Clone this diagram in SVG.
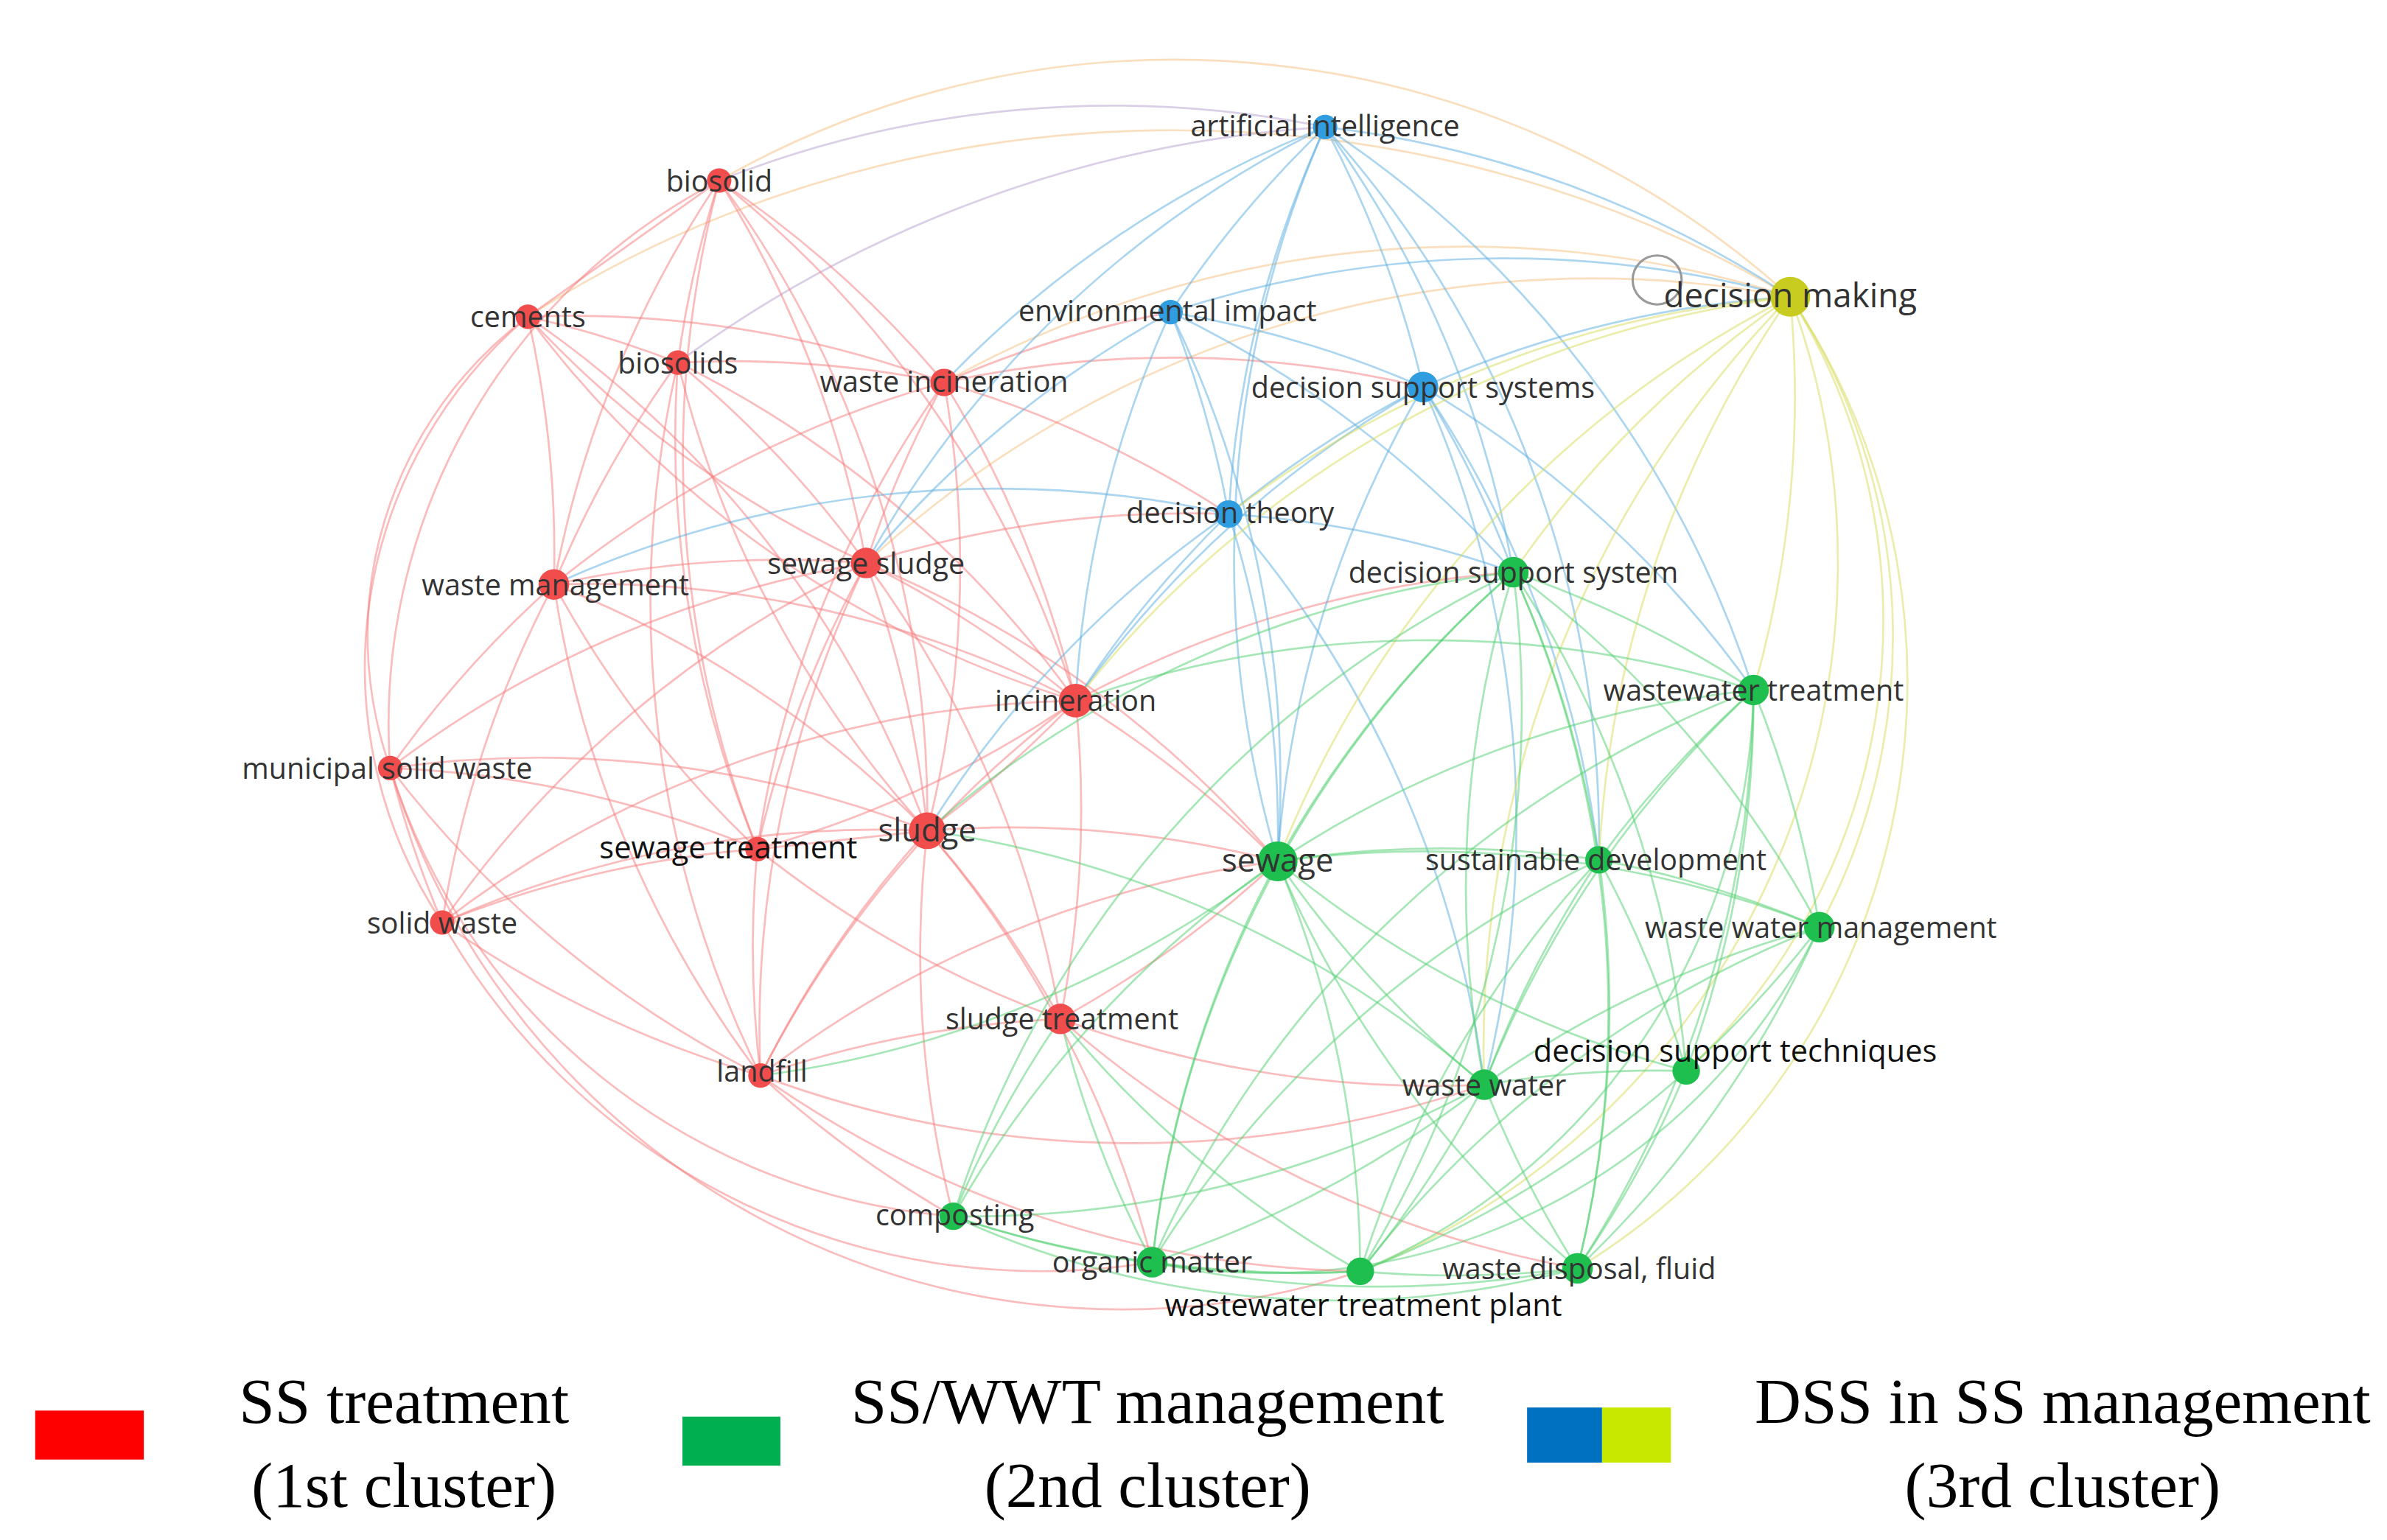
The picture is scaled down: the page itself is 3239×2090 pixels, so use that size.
<svg xmlns="http://www.w3.org/2000/svg" width="3239" height="2090" viewBox="0 0 3239 2090">
<style>
path{fill:none;stroke-width:1.3;stroke-opacity:.5}
.r{stroke:#f67a7a}.g{stroke:#4fcf6f}.b{stroke:#5aaee0}.y{stroke:#d8dc5a}.o{stroke:#f5c080}.p{stroke:#b7a0d0}
.nr{fill:#f24d4d}.ng{fill:#1fbf4f}.nb{fill:#2f9de0}.ny{fill:#c8cc20}
text{font-family:"Open Sans","DejaVu Sans",sans-serif;font-size:19px;fill:#333;text-anchor:middle}
.lg{font-family:"Liberation Serif",serif;font-size:42px;fill:#000}
</style>
<rect width="3239" height="2090" fill="#fff"/>
<g transform="scale(2.0763)">
<g id="connectors">
<path class="o" d="M470 118 A600 600 0 0 1 1170 194"/>
<path class="o" d="M345 207 A700 600 0 0 1 1170 194"/>
<path class="p" d="M443 237 A800 800 0 0 1 866 83"/>
<path class="p" d="M470 118 A700 700 0 0 1 866 83"/>
<path class="o" d="M617 250 A700 700 0 0 1 1170 194"/>
<path class="o" d="M566 368 A700 700 0 0 1 1170 194"/>
<path class="r" d="M345 207 A260 260 0 0 0 255 502"/>
<path class="r" d="M345 207 A300 300 0 0 0 289 603"/>
<path class="r" d="M470 118 A400 400 0 0 0 255 502"/>
<path class="r" d="M255 502 A500 500 0 0 0 889 831"/>
<path class="r" d="M289 603 A450 450 0 0 0 753 825"/>
<path class="r" d="M255 502 A420 420 0 0 0 623 795"/>
<path class="y" d="M1170 194 A450 450 0 0 1 1031 829"/>
<path class="y" d="M1170 194 A500 500 0 0 1 889 831"/>
<path class="y" d="M1170 194 A400 400 0 0 1 1102 700"/>
<path class="y" d="M1170 194 A400 400 0 0 1 1189 606"/>
<path class="g" d="M1146 451 A420 420 0 0 1 889 831"/>
<path class="g" d="M1189 606 A400 400 0 0 1 753 825"/>
<path class="g" d="M623 795 A600 600 0 0 0 1031 829"/>
<path class="r" d="M470 118 L345 207"/><path class="r" d="M470 118 A700 700 0 0 0 443 237"/><path class="r" d="M470 118 A700 700 0 0 0 362 382"/>
<path class="r" d="M470 118 A700 700 0 0 1 566 368"/><path class="r" d="M470 118 A700 700 0 0 1 617 250"/><path class="r" d="M470 118 A700 700 0 0 1 606 543"/>
<path class="r" d="M470 118 A700 700 0 0 1 703 458"/><path class="r" d="M470 118 A700 700 0 0 0 495 555"/>
<path class="r" d="M345 207 A700 700 0 0 1 443 237"/><path class="r" d="M345 207 A700 700 0 0 1 362 382"/><path class="r" d="M345 207 A700 700 0 0 0 566 368"/>
<path class="r" d="M345 207 A700 700 0 0 1 606 543"/><path class="r" d="M345 207 A700 700 0 0 0 703 458"/><path class="r" d="M345 207 A700 700 0 0 1 617 250"/>
<path class="r" d="M443 237 A700 700 0 0 0 362 382"/><path class="r" d="M443 237 A700 700 0 0 1 566 368"/><path class="r" d="M443 237 A700 700 0 0 0 606 543"/>
<path class="r" d="M443 237 A700 700 0 0 0 495 555"/><path class="r" d="M443 237 A700 700 0 0 1 617 250"/><path class="r" d="M443 237 A700 700 0 0 1 703 458"/>
<path class="r" d="M443 237 A700 700 0 0 0 497 703"/>
<path class="r" d="M617 250 A700 700 0 0 0 566 368"/><path class="r" d="M617 250 A700 700 0 0 1 606 543"/><path class="r" d="M617 250 A700 700 0 0 1 703 458"/>
<path class="r" d="M617 250 A700 700 0 0 0 495 555"/><path class="r" d="M617 250 A700 700 0 0 0 362 382"/><path class="r" d="M617 250 A700 700 0 0 1 765 204"/>
<path class="r" d="M617 250 A700 700 0 0 1 930 253"/><path class="r" d="M617 250 A700 700 0 0 1 803 336"/>
<path class="r" d="M362 382 A700 700 0 0 0 255 502"/><path class="r" d="M362 382 A700 700 0 0 0 289 603"/><path class="r" d="M362 382 A700 700 0 0 1 566 368"/>
<path class="r" d="M362 382 A700 700 0 0 1 606 543"/><path class="r" d="M362 382 A700 700 0 0 0 495 555"/><path class="r" d="M362 382 A700 700 0 0 0 497 703"/>
<path class="r" d="M362 382 A700 700 0 0 1 703 458"/>
<path class="r" d="M566 368 A700 700 0 0 1 703 458"/><path class="r" d="M566 368 A700 700 0 0 1 606 543"/><path class="r" d="M566 368 A700 700 0 0 0 495 555"/>
<path class="r" d="M566 368 A700 700 0 0 1 693 666"/><path class="r" d="M566 368 A700 700 0 0 0 497 703"/><path class="r" d="M566 368 A700 700 0 0 1 835 563"/>
<path class="r" d="M566 368 A700 700 0 0 1 803 336"/><path class="r" d="M566 368 A700 700 0 0 0 255 502"/><path class="r" d="M566 368 A700 700 0 0 0 289 603"/>
<path class="r" d="M703 458 A700 700 0 0 1 606 543"/><path class="r" d="M703 458 A700 700 0 0 1 495 555"/><path class="r" d="M703 458 A700 700 0 0 1 693 666"/>
<path class="r" d="M703 458 A700 700 0 0 1 835 563"/><path class="r" d="M703 458 A700 700 0 0 1 989 374"/><path class="r" d="M703 458 A700 700 0 0 0 497 703"/>
<path class="r" d="M703 458 A700 700 0 0 0 289 603"/>
<path class="r" d="M255 502 A700 700 0 0 0 289 603"/><path class="r" d="M255 502 A700 700 0 0 1 495 555"/><path class="r" d="M255 502 A700 700 0 0 1 606 543"/>
<path class="r" d="M255 502 A700 700 0 0 0 497 703"/>
<path class="r" d="M289 603 A700 700 0 0 0 497 703"/><path class="r" d="M289 603 A700 700 0 0 1 495 555"/><path class="r" d="M289 603 A700 700 0 0 1 606 543"/>
<path class="r" d="M495 555 L606 543"/><path class="r" d="M495 555 A700 700 0 0 0 497 703"/><path class="r" d="M495 555 A700 700 0 0 0 693 666"/>
<path class="r" d="M606 543 A700 700 0 0 1 693 666"/><path class="r" d="M606 543 A700 700 0 0 0 497 703"/><path class="r" d="M606 543 A700 700 0 0 1 835 563"/>
<path class="r" d="M606 543 A700 700 0 0 0 623 795"/><path class="r" d="M606 543 A700 700 0 0 1 753 825"/>
<path class="r" d="M693 666 A700 700 0 0 0 497 703"/><path class="r" d="M693 666 A700 700 0 0 0 835 563"/><path class="r" d="M693 666 A700 700 0 0 0 970 709"/>
<path class="r" d="M693 666 A700 700 0 0 0 1031 829"/><path class="r" d="M497 703 A700 700 0 0 0 623 795"/><path class="r" d="M497 703 A700 700 0 0 1 835 563"/>
<path class="r" d="M497 703 A700 700 0 0 0 889 831"/><path class="r" d="M497 703 A700 700 0 0 0 970 709"/>
<path class="b" d="M866 83 A700 700 0 0 0 765 204"/><path class="b" d="M866 83 A700 700 0 0 1 930 253"/><path class="b" d="M866 83 A700 700 0 0 0 803 336"/>
<path class="b" d="M866 83 A700 700 0 0 1 1170 194"/><path class="b" d="M866 83 A700 700 0 0 1 989 374"/><path class="b" d="M866 83 A700 700 0 0 1 1146 451"/>
<path class="b" d="M866 83 A700 700 0 0 0 835 563"/><path class="b" d="M866 83 A700 700 0 0 0 566 368"/><path class="b" d="M866 83 A700 700 0 0 0 617 250"/>
<path class="b" d="M866 83 A700 700 0 0 1 1045 562"/>
<path class="b" d="M765 204 A700 700 0 0 1 930 253"/><path class="b" d="M765 204 A700 700 0 0 1 803 336"/><path class="b" d="M765 204 A700 700 0 0 1 1170 194"/>
<path class="b" d="M765 204 A700 700 0 0 0 566 368"/><path class="b" d="M765 204 A700 700 0 0 1 835 563"/><path class="b" d="M765 204 A700 700 0 0 1 989 374"/>
<path class="b" d="M765 204 A700 700 0 0 0 703 458"/>
<path class="b" d="M930 253 A700 700 0 0 0 803 336"/><path class="b" d="M930 253 A700 700 0 0 1 1170 194"/><path class="b" d="M930 253 A700 700 0 0 1 989 374"/>
<path class="b" d="M930 253 A700 700 0 0 0 835 563"/><path class="b" d="M930 253 A700 700 0 0 1 1146 451"/><path class="b" d="M930 253 A700 700 0 0 1 970 709"/>
<path class="b" d="M930 253 A700 700 0 0 1 1045 562"/><path class="b" d="M930 253 A700 700 0 0 0 703 458"/>
<path class="b" d="M803 336 A700 700 0 0 1 835 563"/><path class="b" d="M803 336 A700 700 0 0 1 989 374"/><path class="b" d="M803 336 A700 700 0 0 1 970 709"/>
<path class="b" d="M803 336 A700 700 0 0 0 703 458"/><path class="b" d="M803 336 A700 700 0 0 0 606 543"/><path class="b" d="M803 336 A700 700 0 0 0 362 382"/>
<path class="y" d="M1170 194 A700 700 0 0 0 989 374"/><path class="y" d="M1170 194 A700 700 0 0 1 1146 451"/><path class="y" d="M1170 194 A700 700 0 0 0 1045 562"/>
<path class="y" d="M1170 194 A700 700 0 0 0 835 563"/><path class="y" d="M1170 194 A700 700 0 0 0 970 709"/><path class="y" d="M1170 194 A700 700 0 0 0 803 336"/>
<path class="y" d="M1170 194 A700 700 0 0 0 703 458"/>
<path class="g" d="M989 374 A700 700 0 0 1 1146 451"/><path class="g" d="M989 374 A700 700 0 0 0 835 563"/><path class="g" d="M989 374 A700 700 0 0 1 1045 562"/>
<path class="g" d="M989 374 A700 700 0 0 0 970 709"/><path class="g" d="M989 374 A700 700 0 0 1 1189 606"/><path class="g" d="M989 374 A700 700 0 0 1 1102 700"/>
<path class="g" d="M989 374 A700 700 0 0 1 889 831"/><path class="g" d="M989 374 A700 700 0 0 0 753 825"/><path class="g" d="M989 374 A700 700 0 0 0 623 795"/>
<path class="g" d="M989 374 A700 700 0 0 1 1031 829"/><path class="g" d="M989 374 A700 700 0 0 0 606 543"/>
<path class="g" d="M1146 451 A700 700 0 0 0 835 563"/><path class="g" d="M1146 451 A700 700 0 0 0 1045 562"/><path class="g" d="M1146 451 A700 700 0 0 1 1189 606"/>
<path class="g" d="M1146 451 A700 700 0 0 0 970 709"/><path class="g" d="M1146 451 A700 700 0 0 1 1102 700"/><path class="g" d="M1146 451 A700 700 0 0 1 1031 829"/>
<path class="g" d="M1146 451 A700 700 0 0 0 753 825"/><path class="g" d="M1146 451 A700 700 0 0 0 703 458"/>
<path class="g" d="M835 563 A700 700 0 0 1 1045 562"/><path class="g" d="M835 563 A700 700 0 0 0 970 709"/><path class="g" d="M835 563 A700 700 0 0 1 1189 606"/>
<path class="g" d="M835 563 A700 700 0 0 0 1102 700"/><path class="g" d="M835 563 A700 700 0 0 0 623 795"/><path class="g" d="M835 563 A700 700 0 0 0 753 825"/>
<path class="g" d="M835 563 A700 700 0 0 1 889 831"/><path class="g" d="M835 563 A700 700 0 0 0 1031 829"/><path class="g" d="M835 563 A700 700 0 0 1 497 703"/>
<path class="g" d="M1045 562 A700 700 0 0 1 1189 606"/><path class="g" d="M1045 562 A700 700 0 0 0 970 709"/><path class="g" d="M1045 562 A700 700 0 0 1 1102 700"/>
<path class="g" d="M1045 562 A700 700 0 0 1 1031 829"/><path class="g" d="M1045 562 A700 700 0 0 0 889 831"/><path class="g" d="M1045 562 A700 700 0 0 0 753 825"/>
<path class="g" d="M1189 606 A700 700 0 0 0 970 709"/><path class="g" d="M1189 606 A700 700 0 0 1 1102 700"/><path class="g" d="M1189 606 A700 700 0 0 1 1031 829"/>
<path class="g" d="M1189 606 A700 700 0 0 0 889 831"/>
<path class="g" d="M1102 700 A700 700 0 0 0 970 709"/><path class="g" d="M1102 700 A700 700 0 0 1 1031 829"/><path class="g" d="M1102 700 A700 700 0 0 1 889 831"/>
<path class="g" d="M970 709 A700 700 0 0 1 889 831"/><path class="g" d="M970 709 A700 700 0 0 0 1031 829"/><path class="g" d="M970 709 A700 700 0 0 1 753 825"/>
<path class="g" d="M970 709 A700 700 0 0 1 623 795"/><path class="g" d="M970 709 A700 700 0 0 0 606 543"/>
<path class="g" d="M623 795 A700 700 0 0 0 753 825"/><path class="g" d="M623 795 A700 700 0 0 0 889 831"/><path class="g" d="M753 825 A700 700 0 0 0 889 831"/>
<path class="g" d="M753 825 A700 700 0 0 0 1031 829"/><path class="g" d="M889 831 A700 700 0 0 0 1031 829"/><path class="g" d="M623 795 A700 700 0 0 1 693 666"/>
<path class="g" d="M753 825 A700 700 0 0 1 693 666"/><path class="g" d="M889 831 A700 700 0 0 1 693 666"/>
</g>
<circle cx="1083" cy="183" r="16" fill="none" stroke="#999" stroke-width="1.5"/>
<g id="n-ai"><circle class="nb" cx="866" cy="83" r="8"/><text x="866" y="89">artificial intelligence</text></g>
<g id="n-biosolid"><circle class="nr" cx="470" cy="118" r="8"/><text x="470" y="125">biosolid</text></g>
<g id="n-cements"><circle class="nr" cx="345" cy="207" r="8"/><text x="345" y="214">cements</text></g>
<g id="n-biosolids"><circle class="nr" cx="443" cy="237" r="8"/><text x="443" y="244">biosolids</text></g>
<g id="n-ei"><circle class="nb" cx="765" cy="204" r="8"/><text x="763" y="210">environmental impact</text></g>
<g id="n-wi"><circle class="nr" cx="617" cy="250" r="9"/><text x="617" y="256">waste incineration</text></g>
<g id="n-dsss"><circle class="nb" cx="930" cy="253" r="10"/><text x="930" y="260">decision support systems</text></g>
<g id="n-dm"><circle class="ny" cx="1170" cy="194" r="13"/><text x="1170" y="201" style="font-size:22px">decision making</text></g>
<g id="n-dt"><circle class="nb" cx="803" cy="336" r="9"/><text x="804" y="342">decision theory</text></g>
<g id="n-wm"><circle class="nr" cx="362" cy="382" r="10"/><text x="363" y="389">waste management</text></g>
<g id="n-ss"><circle class="nr" cx="566" cy="368" r="10"/><text x="566" y="375">sewage sludge</text></g>
<g id="n-dss"><circle class="ng" cx="989" cy="374" r="10"/><text x="989" y="381">decision support system</text></g>
<g id="n-wwt"><circle class="ng" cx="1146" cy="451" r="10"/><text x="1146" y="458">wastewater treatment</text></g>
<g id="n-inc"><circle class="nr" cx="703" cy="458" r="11"/><text x="703" y="465">incineration</text></g>
<g id="n-msw"><circle class="nr" cx="255" cy="502" r="8"/><text x="253" y="509">municipal solid waste</text></g>
<g id="n-st"><circle class="nr" cx="495" cy="555" r="8"/><text x="476" y="561" style="font-size:20px;fill:#111">sewage treatment</text></g>
<g id="n-sl"><circle class="nr" cx="606" cy="543" r="12"/><text x="606" y="550" style="font-size:21px">sludge</text></g>
<g id="n-sew"><circle class="ng" cx="835" cy="563" r="13"/><text x="835" y="570" style="font-size:21px">sewage</text></g>
<g id="n-sd"><circle class="ng" cx="1045" cy="562" r="9"/><text x="1043" y="569">sustainable development</text></g>
<g id="n-sw"><circle class="nr" cx="289" cy="603" r="8"/><text x="289" y="610">solid waste</text></g>
<g id="n-wwm"><circle class="ng" cx="1189" cy="606" r="10"/><text x="1190" y="613">waste water management</text></g>
<g id="n-str"><circle class="nr" cx="693" cy="666" r="10"/><text x="694" y="673">sludge treatment</text></g>
<g id="n-dst"><circle class="ng" cx="1102" cy="700" r="9"/><text x="1134" y="694" style="font-size:20px;fill:#111">decision support techniques</text></g>
<g id="n-ww"><circle class="ng" cx="970" cy="709" r="10"/><text x="970" y="716">waste water</text></g>
<g id="n-lf"><circle class="nr" cx="497" cy="703" r="8"/><text x="498" y="707">landfill</text></g>
<g id="n-cmp"><circle class="ng" cx="623" cy="795" r="9"/><text x="624" y="801">composting</text></g>
<g id="n-om"><circle class="ng" cx="753" cy="825" r="10"/><text x="753" y="832">organic matter</text></g>
<g id="n-wwtp"><circle class="ng" cx="889" cy="831" r="9"/><text x="891" y="860" style="font-size:20px;fill:#111">wastewater treatment plant</text></g>
<g id="n-wdf"><circle class="ng" cx="1031" cy="829" r="10"/><text x="1032" y="836">waste disposal, fluid</text></g>
<g id="legend">
<rect x="23" y="922" width="71" height="32" fill="#ff0000"/>
<rect x="446" y="926" width="64" height="32" fill="#00b050"/>
<rect x="998" y="920" width="49" height="36" fill="#0070c0"/>
<rect x="1047" y="920" width="45" height="36" fill="#c8e800"/>
<text class="lg" x="264" y="930">SS treatment</text><text class="lg" x="264" y="985">(1st cluster)</text>
<text class="lg" x="750" y="930">SS/WWT management</text><text class="lg" x="750" y="985">(2nd cluster)</text>
<text class="lg" x="1348" y="930">DSS in SS management</text><text class="lg" x="1348" y="985">(3rd cluster)</text>
</g>
</g>
</svg>
